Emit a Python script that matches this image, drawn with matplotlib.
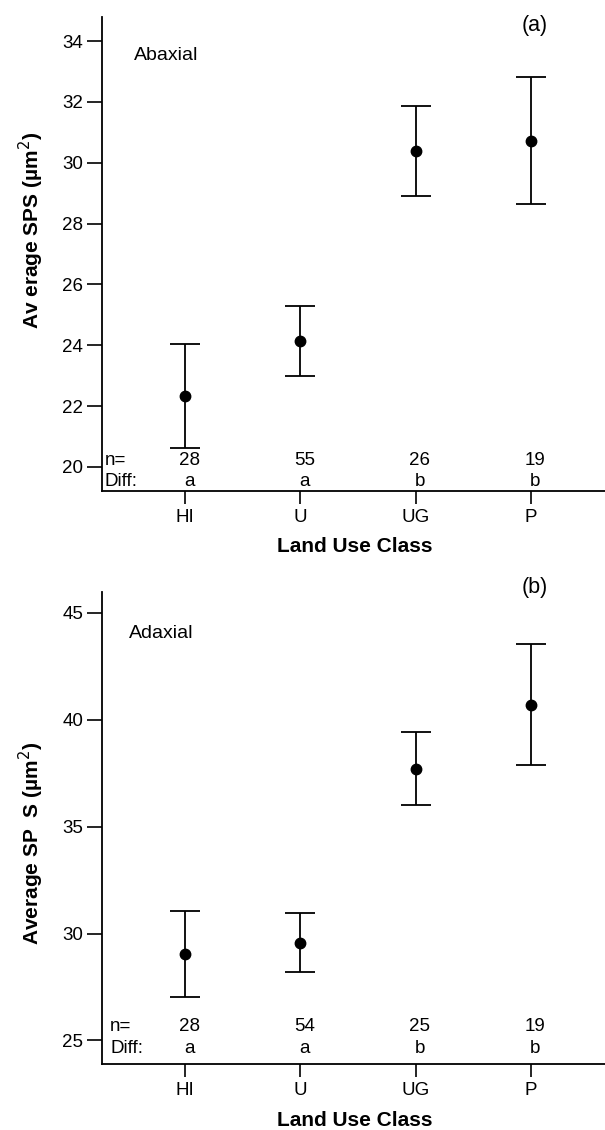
import matplotlib
matplotlib.use("Agg")
import matplotlib.pyplot as plt
import matplotlib.transforms as mtransforms
import numpy as np

plt.rcParams['font.family'] = ['Liberation Sans', 'DejaVu Sans']

classes = ['HI', 'U', 'UG', 'P']

# (a) abaxial
ab_mean = [22.33, 24.14, 30.38, 30.72]
ab_low = [20.63, 22.98, 28.89, 28.63]
ab_high = [24.04, 25.29, 31.87, 32.81]
ab_n = ['28', '55', '26', '19']
ab_diff = ['a', 'a', 'b', 'b']

# (b) adaxial
ad_mean = [29.04, 29.57, 37.72, 40.71]
ad_low = [27.04, 28.19, 36.03, 37.88]
ad_high = [31.05, 30.97, 39.44, 43.55]
ad_n = ['28', '54', '25', '19']
ad_diff = ['a', 'a', 'b', 'b']

W, H = 605, 1130
fig = plt.figure(figsize=(W / 100, H / 100), dpi=100)
FS = 13.5


def panel(rect, mean, low, high, nvals, diffs, ylim, yticks, n_y, d_y, nx):
    ax = fig.add_axes(rect)
    x = np.arange(len(classes))
    mean = np.array(mean)
    err = [mean - np.array(low), np.array(high) - mean]
    ax.errorbar(x, mean, yerr=err, fmt='o', color='black', ms=7.5,
                elinewidth=1.3, capsize=10.5, capthick=1.3)
    ax.set_xlim(-0.72, 3.643)
    ax.set_ylim(*ylim)
    ax.set_yticks(yticks)
    ax.set_xticks(x)
    ax.set_xticklabels(classes)
    for s in ['top', 'right']:
        ax.spines[s].set_visible(False)
    for s in ['left', 'bottom']:
        ax.spines[s].set_linewidth(1.3)
    ax.tick_params(axis='y', length=10.5, width=1.2, pad=3, labelsize=FS)
    ax.tick_params(axis='x', length=9, width=1.2, pad=4, labelsize=FS)
    trans = mtransforms.blended_transform_factory(ax.transData, ax.transAxes)
    off = mtransforms.offset_copy(trans, fig=fig, x=4, y=0, units='dots')
    for xi, nv, dv in zip(x, nvals, diffs):
        ax.text(xi, n_y, nv, transform=off, ha='center', va='center', fontsize=FS)
        ax.text(xi, d_y, dv, transform=off, ha='center', va='center', fontsize=FS)
    ax.text(nx, n_y, 'n=', transform=ax.transAxes, ha='left', va='center', fontsize=FS)
    ax.text(nx, d_y, 'Diff:', transform=ax.transAxes, ha='left', va='center', fontsize=FS)
    return ax


ax1 = panel([102 / W, 1 - 491 / H, 1 - 102 / W, 474 / H],
            ab_mean, ab_low, ab_high, ab_n, ab_diff,
            (19.21, 34.79), [20, 22, 24, 26, 28, 30, 32, 34],
            0.064, 0.0196, 0.005)
ax2 = panel([102 / W, 1 - 1064 / H, 1 - 102 / W, 472 / H],
            ad_mean, ad_low, ad_high, ad_n, ad_diff,
            (23.9, 45.98), [25, 30, 35, 40, 45],
            0.079, 0.033, 0.016)

fig.text(134 / W, 1 - 55 / H, 'Abaxial', ha='left', va='center', fontsize=14)
fig.text(129 / W, 1 - 634 / H, 'Adaxial', ha='left', va='center', fontsize=14)
fig.text(535 / W, 1 - 25 / H, '(a)', ha='center', va='center', fontsize=15.5)
fig.text(535 / W, 1 - 588 / H, '(b)', ha='center', va='center', fontsize=15.5)

fig.text(31 / W, 1 - 230 / H, 'Av erage SPS (µm$^2$)', rotation=90,
         ha='center', va='center', fontsize=15, fontweight='bold')
fig.text(31 / W, 1 - 843 / H, 'Average SP  S (µm$^2$)', rotation=90,
         ha='center', va='center', fontsize=15, fontweight='bold')
fig.text(355 / W, 1 - 547 / H, 'Land Use Class', ha='center', va='center',
         fontsize=15, fontweight='bold')
fig.text(355 / W, 1 - 1120 / H, 'Land Use Class', ha='center', va='center',
         fontsize=15, fontweight='bold')

fig.savefig('out.png', dpi=100)
